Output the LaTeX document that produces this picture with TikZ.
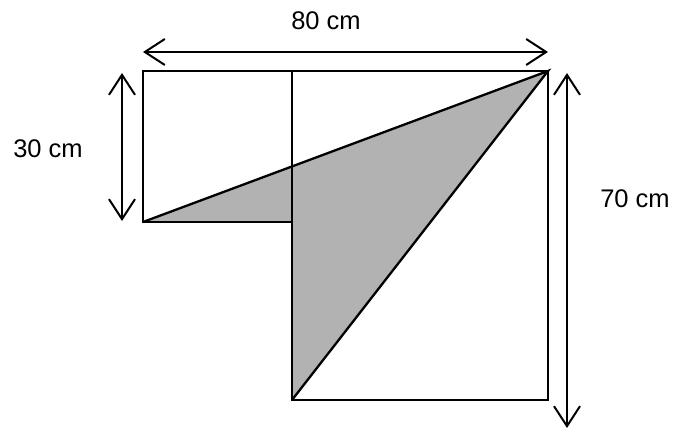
\documentclass[tikz,border=0pt]{standalone}
\usepackage{fontspec}
\setmainfont{Liberation Sans}
\usetikzlibrary{arrows.meta}
\begin{document}
\begin{tikzpicture}[x=1pt,y=1pt,
  edge/.style={line width=2.3pt, line join=miter},
  dim/.style={line width=2pt, {Straight Barb[length=20pt,width=26pt,line width=2pt]}-{Straight Barb[length=20pt,width=26pt,line width=2pt]}},
  lbl/.style={font=\fontsize{25.5}{30}\selectfont, inner sep=0pt}]
\useasboundingbox (0,0) rectangle (678,433);
% points (y flipped: 433 - pixel y)
\coordinate (A) at (143,211);
\coordinate (B) at (143,362);
\coordinate (C) at (292,362);
\coordinate (D) at (548,362);
\coordinate (E) at (548,33);
\coordinate (F) at (292,33);
\coordinate (G) at (292,211);
% shading
\fill[gray!60] (A) -- (D) -- (F) -- (G) -- cycle;
% outlines
\draw[edge] (A) -- (B) -- (C) -- (G) -- cycle;
\draw[edge] (C) -- (D) -- (E) -- (F) -- cycle;
\draw[edge] (A) -- (D) -- (F);
% dimension ends
\coordinate (t1) at (143,381);
\coordinate (t2) at (548,381);
\coordinate (l1) at (122,360);
\coordinate (l2) at (122,212);
\coordinate (r1) at (567,360);
\coordinate (r2) at (567,5);
\draw[dim] (t1) -- (t2);
\draw[dim] (l1) -- (l2);
\draw[dim] (r1) -- (r2);
% labels
\node[lbl] (w) at (326,412) {80 cm};
\node[lbl] (h1) at (48,284) {30 cm};
\node[lbl] (h2) at (635,234) {70 cm};
\end{tikzpicture}
\end{document}
